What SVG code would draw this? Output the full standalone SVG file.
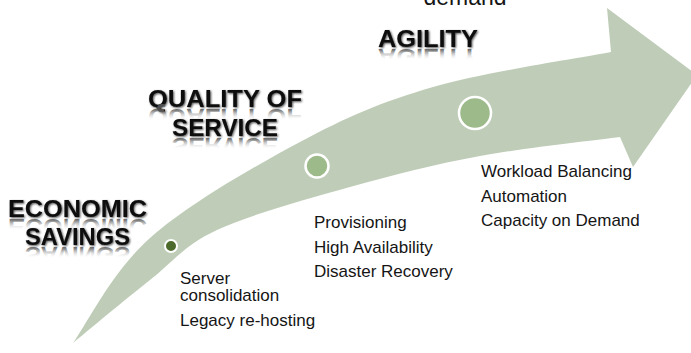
<svg xmlns="http://www.w3.org/2000/svg" width="691" height="353" viewBox="0 0 691 353">
  <defs>
    <linearGradient id="refl" x1="0" y1="0" x2="0" y2="1">
      <stop offset="0" stop-color="#ffffff" stop-opacity="0"/>
      <stop offset="0.4" stop-color="#ffffff" stop-opacity="0"/>
      <stop offset="0.78" stop-color="#5a5a5a" stop-opacity="0.85"/>
      <stop offset="1" stop-color="#555555" stop-opacity="0.9"/>
    </linearGradient>
    <filter id="glow" x="-10%" y="-30%" width="120%" height="160%">
      <feGaussianBlur in="SourceAlpha" stdDeviation="0.9" result="b"/>
      <feOffset in="b" dx="0.6" dy="0.8" result="o"/>
      <feComponentTransfer in="o" result="s">
        <feFuncA type="linear" slope="0.7"/>
      </feComponentTransfer>
      <feMerge>
        <feMergeNode in="s"/>
        <feMergeNode in="SourceGraphic"/>
      </feMerge>
    </filter>
  </defs>
  <style>
    .head { font-family: "Liberation Sans", Arial, sans-serif; font-weight: bold; font-size: 24px; fill: #0a0a0a; text-anchor: middle; }
    .head-r { font-family: "Liberation Sans", Arial, sans-serif; font-weight: bold; font-size: 24px; fill: url(#refl); text-anchor: middle; }
    .body { font-family: "Liberation Sans", Arial, sans-serif; font-size: 17px; fill: #151515; }
    .band { fill: #bfcdb8; }
    .dot { fill: #9dba8b; stroke: #ffffff; stroke-width: 2.5; }
    .dot-dark { fill: #4b6a2b; stroke: #ffffff; stroke-width: 2; }
  </style>

  <rect width="691" height="353" fill="#ffffff"/>

  <!-- top cut-off text -->
  <text class="body" x="465" y="5" text-anchor="middle" style="font-size:23px">demand</text>

  <g id="connectors">
    <g id="arrow">
      <path class="band" d="M73,343
        C85.8,325.5 112.2,271.5 150,238
        C187.8,204.5 252.8,167.2 300,142
        C347.2,116.8 381.2,102 433,87
        C484.8,72 581.3,57.8 611,52
        L607,8 L697,75 L633,167 L620,137
        C596.7,140.2 525,147.7 480,156
        C435,164.3 393.8,174.7 350,187
        C306.2,199.3 250.3,214.5 217,230
        C183.7,245.5 174,261.2 150,280
        C126,298.8 85.8,332.5 73,343 Z"/>
    </g>
  </g>

  <g id="milestone-economic">
    <circle class="dot-dark" cx="171" cy="246" r="6"/>
    <g filter="url(#glow)">
      <text class="head" x="77.5" y="217" textLength="139" lengthAdjust="spacingAndGlyphs">ECONOMIC</text>
    </g>
    <text class="head-r" x="77.5" y="217" transform="translate(0,436) scale(1,-1)" textLength="139" lengthAdjust="spacingAndGlyphs">ECONOMIC</text>
    <g filter="url(#glow)">
      <text class="head" x="77.5" y="245" textLength="105" lengthAdjust="spacingAndGlyphs">SAVINGS</text>
    </g>
    <text class="head-r" x="77.5" y="245" transform="translate(0,492) scale(1,-1)" textLength="105" lengthAdjust="spacingAndGlyphs">SAVINGS</text>
    <text class="body" x="180" y="284">Server</text>
    <text class="body" x="180" y="301">consolidation</text>
    <text class="body" x="180" y="326">Legacy re-hosting</text>
  </g>

  <g id="milestone-quality">
    <circle class="dot" cx="317" cy="166" r="11.5"/>
    <g filter="url(#glow)">
      <text class="head" x="225" y="107" textLength="154" lengthAdjust="spacingAndGlyphs">QUALITY OF</text>
    </g>
    <text class="head-r" x="225" y="107" transform="translate(0,216) scale(1,-1)" textLength="154" lengthAdjust="spacingAndGlyphs">QUALITY OF</text>
    <g filter="url(#glow)">
      <text class="head" x="225" y="136" textLength="106" lengthAdjust="spacingAndGlyphs">SERVICE</text>
    </g>
    <text class="head-r" x="225" y="136" transform="translate(0,274) scale(1,-1)" textLength="106" lengthAdjust="spacingAndGlyphs">SERVICE</text>
    <text class="body" x="314" y="228">Provisioning</text>
    <text class="body" x="314" y="253">High Availability</text>
    <text class="body" x="314" y="277">Disaster Recovery</text>
  </g>

  <g id="milestone-agility">
    <circle class="dot" cx="475" cy="113" r="16"/>
    <g filter="url(#glow)">
      <text class="head" x="428" y="47" textLength="100" lengthAdjust="spacingAndGlyphs">AGILITY</text>
    </g>
    <text class="head-r" x="428" y="47" transform="translate(0,96) scale(1,-1)" textLength="100" lengthAdjust="spacingAndGlyphs">AGILITY</text>
    <text class="body" x="481" y="177">Workload Balancing</text>
    <text class="body" x="481" y="202">Automation</text>
    <text class="body" x="481" y="226">Capacity on Demand</text>
  </g>
</svg>
